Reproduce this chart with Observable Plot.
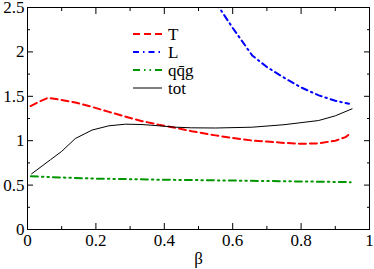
<!DOCTYPE html>
<html><head><meta charset="utf-8">
<script src="https://cdn.jsdelivr.net/npm/d3@7"></script>
<script src="https://cdn.jsdelivr.net/npm/@observablehq/plot@0.6"></script>
<style>
body{margin:0;background:#fff}
#wrap{position:relative;width:374px;height:269px}
#legend{position:absolute;left:0;top:0;pointer-events:none}
#wrap svg, #wrap svg text{font-family:"Liberation Serif","Tinos","Times New Roman","DejaVu Serif" !important}
</style>
</head><body><div id="wrap"></div>
<script>
const xTicks = [0, 0.2, 0.4, 0.6, 0.8, 1];
const xMinor = [0.1, 0.3, 0.5, 0.7, 0.9];
const yTicks = [0, 0.5, 1, 1.5, 2, 2.5];
const yMinor = [0.25, 0.75, 1.25, 1.75, 2.25];
const xTitle = "β";

const seriesNames = ["T", "L", "qq̄g", "tot"];
const seriesColors = ["#ff0000", "#0000ff", "#009600", "#000000"];
const seriesDash = ["7,4", "6,4,1.5,4", "7,4,1.5,4,1.5,4", null];
const seriesWidth = [2, 2, 2, 1];

const betaT = [0.009, 0.035, 0.06, 0.092, 0.14, 0.189, 0.238, 0.287, 0.335, 0.384, 0.433, 0.48, 0.55, 0.6, 0.657, 0.7, 0.75, 0.803, 0.85, 0.9, 0.93, 0.946];
const valT  = [1.39, 1.44, 1.483, 1.464, 1.43, 1.38, 1.325, 1.27, 1.22, 1.18, 1.145, 1.107, 1.06, 1.03, 1.002, 0.99, 0.975, 0.965, 0.97, 1.0, 1.04, 1.089];

const betaL = [0.55, 0.6, 0.657, 0.7, 0.754, 0.8, 0.852, 0.9, 0.94];
const valL  = [2.56, 2.27, 1.96, 1.83, 1.70, 1.60, 1.51, 1.45, 1.415];

const betaQ = [0.01, 0.1, 0.2, 0.3, 0.4, 0.5, 0.6, 0.7, 0.8, 0.9, 0.945];
const valQ  = [0.60, 0.585, 0.573, 0.567, 0.56, 0.556, 0.551, 0.546, 0.541, 0.536, 0.533];

const betaTot = [0.012, 0.067, 0.1, 0.14, 0.189, 0.238, 0.287, 0.335, 0.384, 0.433, 0.48, 0.55, 0.657, 0.75, 0.851, 0.9, 0.949];
const valTot  = [0.627, 0.785, 0.88, 1.025, 1.12, 1.168, 1.186, 1.182, 1.168, 1.152, 1.145, 1.143, 1.152, 1.18, 1.227, 1.28, 1.359];

const toRows = (bs, vs) => bs.map((b, i) => ({beta: b, v: vs[i]}));
const series = [toRows(betaT, valT), toRows(betaL, valL), toRows(betaQ, valQ), toRows(betaTot, valTot)];

const fmt = d => String(d);
const tickOnly = {fill: "none", label: null};
const chart = Plot.plot({
  width: 374, height: 269,
  marginLeft: 27, marginRight: 5, marginTop: 7, marginBottom: 40,
  style: {fontFamily: "'Liberation Serif', serif", fontSize: "17px", background: "#fff", color: "#000"},
  x: {domain: [0, 1], label: null},
  y: {domain: [0, 2.5], label: null},
  marks: [
    ...series.map((rows, i) => Plot.line(rows, {
      x: "beta", y: "v", stroke: seriesColors[i], strokeWidth: seriesWidth[i],
      strokeDasharray: seriesDash[i], clip: true
    })),
    Plot.frame({stroke: "#000", strokeWidth: 1}),
    Plot.axisX(xTicks, {anchor: "bottom", tickSize: -6, tickPadding: 10, tickFormat: fmt, fontSize: 17,
      label: xTitle, labelAnchor: "center", labelArrow: "none", labelOffset: 34}),
    Plot.axisX(xMinor, {anchor: "bottom", tickSize: -3, ...tickOnly}),
    Plot.axisX(xTicks, {anchor: "top", tickSize: -6, ...tickOnly}),
    Plot.axisX(xMinor, {anchor: "top", tickSize: -3, ...tickOnly}),
    Plot.axisY(yTicks, {anchor: "left", tickSize: -6, tickPadding: 9, tickFormat: fmt, fontSize: 17, label: null}),
    Plot.axisY(yMinor, {anchor: "left", tickSize: -3, ...tickOnly}),
    Plot.axisY(yTicks, {anchor: "right", tickSize: -6, ...tickOnly}),
    Plot.axisY(yMinor, {anchor: "right", tickSize: -3, ...tickOnly})
  ]
});
const wrap = document.getElementById("wrap");
wrap.appendChild(chart);

// legend overlay
const leg = d3.select(wrap).append("svg").attr("id", "legend")
  .attr("width", 374).attr("height", 269);
const lx0 = 133, lx1 = 162, tx = 168, ly0 = 34, dy = 18;
seriesNames.forEach((name, i) => {
  const y = ly0 + i * dy;
  leg.append("line").attr("x1", lx0).attr("x2", lx1).attr("y1", y).attr("y2", y)
    .attr("stroke", seriesColors[i]).attr("stroke-width", seriesWidth[i])
    .attr("stroke-dasharray", seriesDash[i]);
  leg.append("text").attr("x", tx).attr("y", y).attr("dy", "0.35em")
    .attr("font-size", 17).text(name);
});
</script>
</body></html>
